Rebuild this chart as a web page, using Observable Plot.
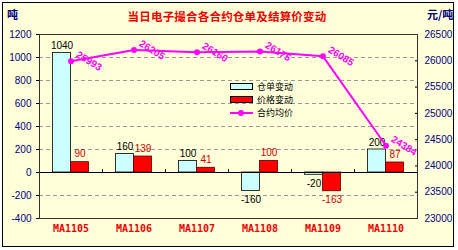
<!DOCTYPE html>
<html>
<head>
<meta charset="utf-8">
<script src="https://cdn.jsdelivr.net/npm/d3@7"></script>
<script src="https://cdn.jsdelivr.net/npm/@observablehq/plot@0.6"></script>
<style>
  html, body { margin: 0; padding: 0; background: #ffffff; }
  #wrap { position: relative; width: 458px; height: 250px; overflow: hidden; font-family: "Noto Sans CJK SC", "DejaVu Sans", sans-serif; }
  #panel { position: absolute; left: 2px; top: 2px; width: 450px; height: 243px; border: 1px solid #000; background: #FFFFD9; }
  #chart { position: absolute; left: 0; top: 0; }
  .title { position: absolute; left: 0; width: 454px; top: 8px; text-align: center; color: #EE0000; font-weight: bold; font-size: 11.5px; letter-spacing: 0.2px; }
  .unitL { position: absolute; left: 7px; top: 6px; color: #000080; font-weight: bold; font-size: 11px; }
  .unitR { position: absolute; left: 427px; top: 6px; color: #000080; font-weight: bold; font-size: 11px; }
  .legend { position: absolute; left: 230px; top: 80px; font-size: 9px; color: #000; }
  .legend .row { height: 13px; line-height: 13px; display: flex; align-items: center; white-space: nowrap; }
  .legend .sw { width: 21px; height: 5px; border: 1px solid #000; margin-right: 4px; }
  .legend .ln { width: 23px; height: 2px; background: #FF00FF; margin-right: 4px; position: relative; }
  .legend .ln::after { content: ""; position: absolute; left: 8px; top: -2px; width: 6px; height: 6px; border-radius: 3px; background: #FF00FF; }
</style>
</head>
<body>
<div id="wrap">
  <div id="panel"></div>
  <div class="unitL">吨</div>
  <div class="unitR">元/吨</div>
  <div class="title">当日电子撮合各合约仓单及结算价变动</div>
  <div id="chart"></div>
  <div class="legend">
    <div class="row"><div class="sw" style="background:#CCFFFF"></div><span>仓单变动</span></div>
    <div class="row"><div class="sw" style="background:#FF0000"></div><span>价格变动</span></div>
    <div class="row"><div class="ln"></div><span>合约均价</span></div>
  </div>
</div>
<script>
// ---- data ----
const categories = ["MA1105", "MA1106", "MA1107", "MA1108", "MA1109", "MA1110"];
const warrantChange = [1040, 160, 100, -160, -20, 200];   // 仓单变动 (吨)
const priceChange   = [90, 139, 41, 100, -163, 87];      // 价格变动
const avgPrice      = [25993, 26205, 26160, 26175, 26085, 24384]; // 合约均价 (元/吨)
const leftTicks  = [-400, -200, 0, 200, 400, 600, 800, 1000, 1200];
const rightTicks = [23000, 23500, 24000, 24500, 25000, 25500, 26000, 26500];

// map right-axis values onto left-axis units
const L0 = -400, L1 = 1200, R0 = 23000, R1 = 26500;
const toLeft = p => L0 + (p - R0) / (R1 - R0) * (L1 - L0);
const fromLeft = v => R0 + (v - L0) / (L1 - L0) * (R1 - R0);

const rows = categories.map((c, i) => ({cat: c, wr: warrantChange[i], pc: priceChange[i], price: avgPrice[i]}));

const chart = Plot.plot({
  width: 458,
  height: 250,
  marginLeft: 39,
  marginRight: 41,
  marginTop: 34,
  marginBottom: 32,
  style: {background: "transparent", fontFamily: "Liberation Sans, Arial, sans-serif", fontSize: "10px", overflow: "visible"},
  x: {type: "band", domain: categories, paddingInner: 0, paddingOuter: 0},
  y: {domain: [L0, L1]},
  marks: [
    Plot.gridY(leftTicks.filter(d => d !== 0 && d !== L0 && d !== L1), {stroke: "#999", strokeOpacity: 1, strokeDasharray: "4,3"}),
    Plot.axisY(leftTicks, {anchor: "left", tickFormat: d => String(d), tickSize: 3, tickPadding: 5, fill: "#000080", stroke: "#000", fontSize: 10, label: null}),
    Plot.axisY(rightTicks.map(toLeft), {anchor: "right", tickFormat: d => String(Math.round(fromLeft(d))), tickSize: -3, tickPadding: 10, fill: "#000080", stroke: "#000", fontSize: 10, label: null}),
    Plot.axisX({anchor: "bottom", tickSize: 0, tickPadding: 6, fill: "#EE0000", fontWeight: "bold", fontSize: 10, fontFamily: "DejaVu Sans Mono, monospace", label: null}),
    Plot.barY(rows, {x: "cat", y: "wr", fill: "#CCFFFF", stroke: "#000", strokeWidth: 0.8, insetLeft: 13.5, insetRight: 31.5}),
    Plot.barY(rows, {x: "cat", y: "pc", fill: "#FF0000", stroke: "#550000", strokeWidth: 0.8, insetLeft: 31.5, insetRight: 13.5}),
    Plot.ruleY([0], {stroke: "#000", strokeWidth: 1}),
    Plot.ruleX(categories.slice(1), {x: d => d, dx: -31.5, y1: 0, y2: 25, stroke: "#000"}),
    Plot.frame({stroke: "#333", strokeWidth: 1}),
    Plot.text(rows.filter(d => d.wr >= 0), {x: "cat", y: "wr", text: d => String(d.wr), dx: -9, dy: -7, fill: "#000", fontSize: 10}),
    Plot.text(rows.filter(d => d.wr < 0), {x: "cat", y: "wr", text: d => String(d.wr), dx: -9, dy: 9, fill: "#000", fontSize: 10}),
    Plot.text(rows.filter(d => d.pc >= 0), {x: "cat", y: "pc", text: d => String(d.pc), dx: 9, dy: -8, fill: "#CC0000", fontSize: 10}),
    Plot.text(rows.filter(d => d.pc < 0), {x: "cat", y: "pc", text: d => String(d.pc), dx: 9, dy: 9, fill: "#CC0000", fontSize: 10}),
    Plot.line(rows, {x: "cat", y: d => toLeft(d.price), stroke: "#FF00FF", strokeWidth: 2}),
    Plot.dot(rows, {x: "cat", y: d => toLeft(d.price), r: 3, fill: "#FF00FF", stroke: "none"}),
    Plot.text(rows, {x: "cat", y: d => toLeft(d.price), text: d => String(d.price), rotate: 32, dx: 18, dy: 0, fill: "#FF00FF", fontWeight: "bold", fontSize: 10})
  ]
});
document.getElementById("chart").appendChild(chart);
</script>
</body>
</html>
